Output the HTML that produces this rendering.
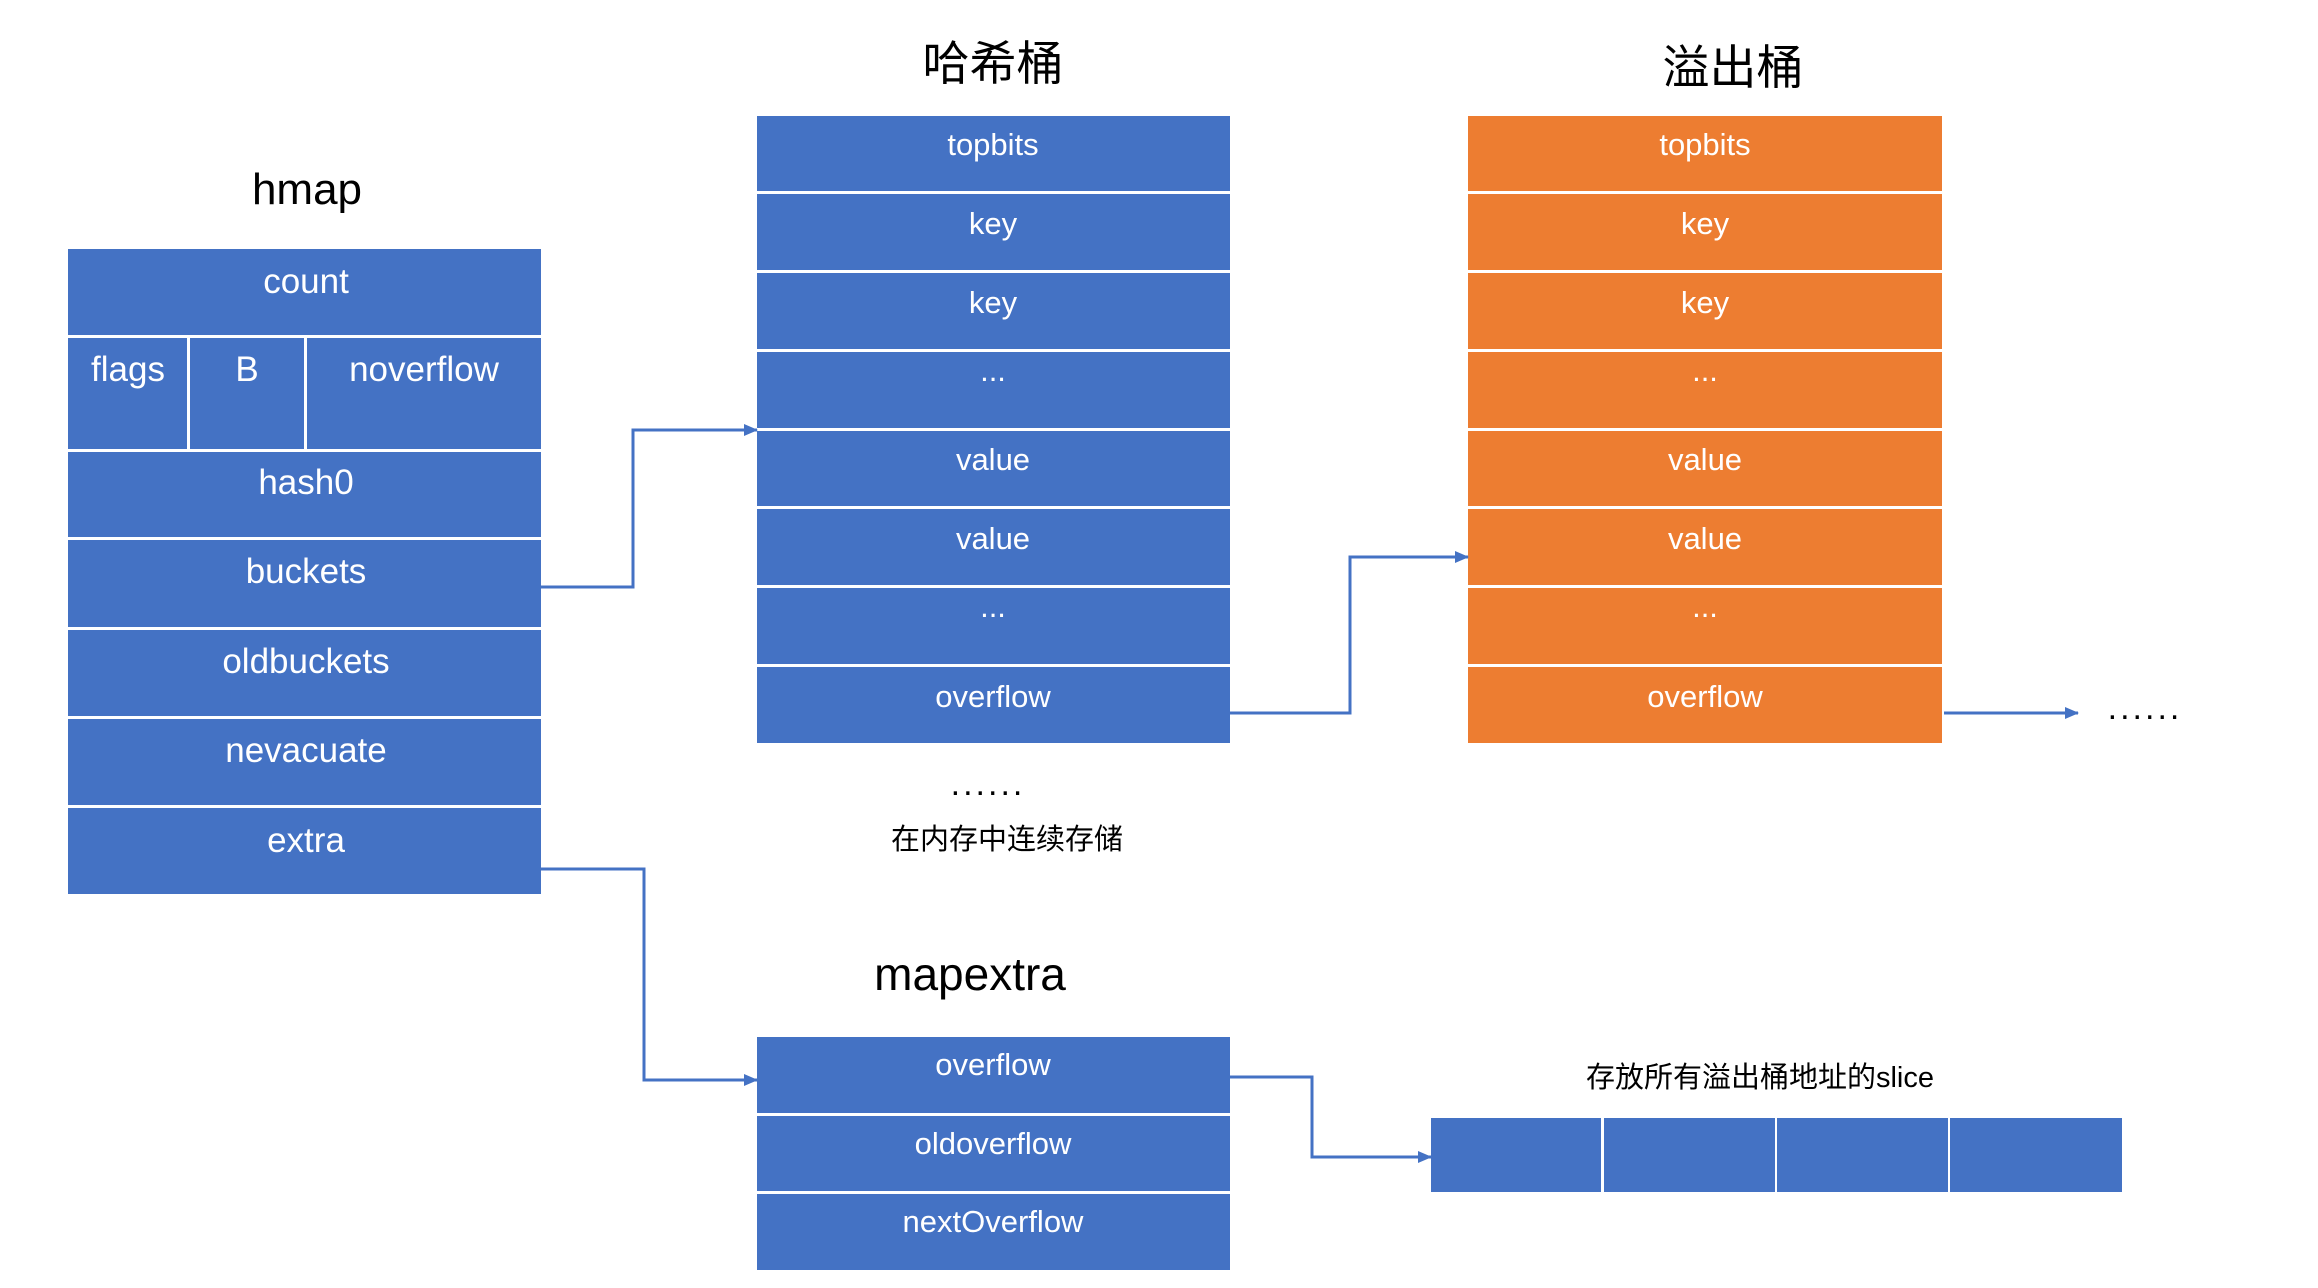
<!DOCTYPE html>
<html><head><meta charset="utf-8"><style>
html,body{margin:0;padding:0;background:#fff;}
svg{display:block}
text{font-family:"Liberation Sans","Noto Sans CJK SC",sans-serif;}
</style></head><body>
<svg width="2318" height="1288" viewBox="0 0 2318 1288" xmlns="http://www.w3.org/2000/svg">
<defs><marker id="a" markerWidth="14" markerHeight="12" refX="13" refY="6" orient="auto" markerUnits="userSpaceOnUse"><path d="M0,0 L14,6 L0,12 z" fill="#4472C4"/></marker></defs>
<text x="307" y="204" font-size="44" text-anchor="middle" fill="#000">hmap</text>
<g fill="#4472C4">
<rect x="68" y="249" width="473" height="86"/>
<rect x="68" y="338" width="119" height="111"/>
<rect x="190" y="338" width="114" height="111"/>
<rect x="307" y="338" width="234" height="111"/>
<rect x="68" y="452" width="473" height="85"/>
<rect x="68" y="540" width="473" height="87"/>
<rect x="68" y="630" width="473" height="86"/>
<rect x="68" y="719" width="473" height="86"/>
<rect x="68" y="808" width="473" height="86"/>
</g>
<g fill="#fff" font-size="35" text-anchor="middle">
<text x="306" y="293">count</text>
<text x="128" y="381">flags</text>
<text x="247" y="381">B</text>
<text x="424" y="381">noverflow</text>
<text x="306" y="494">hash0</text>
<text x="306" y="583">buckets</text>
<text x="306" y="673">oldbuckets</text>
<text x="306" y="762">nevacuate</text>
<text x="306" y="852">extra</text>
</g>
<text x="993" y="80" font-size="47" text-anchor="middle" fill="#000">哈希桶</text>
<g fill="#4472C4">
<rect x="757" y="116" width="473" height="75"/>
<rect x="757" y="194" width="473" height="76"/>
<rect x="757" y="273" width="473" height="76"/>
<rect x="757" y="352" width="473" height="76"/>
<rect x="757" y="431" width="473" height="75"/>
<rect x="757" y="509" width="473" height="76"/>
<rect x="757" y="588" width="473" height="76"/>
<rect x="757" y="667" width="473" height="76"/>
</g>
<g fill="#fff" font-size="31" text-anchor="middle">
<text x="993" y="155">topbits</text>
<text x="993" y="234">key</text>
<text x="993" y="313">key</text>
<text x="993" y="381">...</text>
<text x="993" y="470">value</text>
<text x="993" y="549">value</text>
<text x="993" y="617">...</text>
<text x="993" y="707">overflow</text>
</g>
<text x="1733" y="84" font-size="47" text-anchor="middle" fill="#000">溢出桶</text>
<g fill="#ED7D31">
<rect x="1468" y="116" width="474" height="75"/>
<rect x="1468" y="194" width="474" height="76"/>
<rect x="1468" y="273" width="474" height="76"/>
<rect x="1468" y="352" width="474" height="76"/>
<rect x="1468" y="431" width="474" height="75"/>
<rect x="1468" y="509" width="474" height="76"/>
<rect x="1468" y="588" width="474" height="76"/>
<rect x="1468" y="667" width="474" height="76"/>
</g>
<g fill="#fff" font-size="31" text-anchor="middle">
<text x="1705" y="155">topbits</text>
<text x="1705" y="234">key</text>
<text x="1705" y="313">key</text>
<text x="1705" y="381">...</text>
<text x="1705" y="470">value</text>
<text x="1705" y="549">value</text>
<text x="1705" y="617">...</text>
<text x="1705" y="707">overflow</text>
</g>
<text x="988" y="795" font-size="34" text-anchor="middle" fill="#000" letter-spacing="3">......</text>
<text x="1007" y="849" font-size="29" text-anchor="middle" fill="#000">在内存中连续存储</text>
<text x="2145" y="719" font-size="34" text-anchor="middle" fill="#000" letter-spacing="3">......</text>
<text x="970" y="990" font-size="46" text-anchor="middle" fill="#000">mapextra</text>
<g fill="#4472C4">
<rect x="757" y="1037" width="473" height="76"/>
<rect x="757" y="1116" width="473" height="75"/>
<rect x="757" y="1194" width="473" height="76"/>
</g>
<g fill="#fff" font-size="31" text-anchor="middle">
<text x="993" y="1075">overflow</text>
<text x="993" y="1154">oldoverflow</text>
<text x="993" y="1232">nextOverflow</text>
</g>
<text x="1760" y="1087" font-size="29" text-anchor="middle" fill="#000">存放所有溢出桶地址的slice</text>
<g fill="#4472C4">
<rect x="1431" y="1118" width="170" height="74"/>
<rect x="1604" y="1118" width="171" height="74"/>
<rect x="1777" y="1118" width="171" height="74"/>
<rect x="1950" y="1118" width="172" height="74"/>
</g>
<g fill="none" stroke="#4472C4" stroke-width="3">
<polyline points="541,587 633,587 633,430 757,430" marker-end="url(#a)"/>
<polyline points="1230,713 1350,713 1350,557 1468,557" marker-end="url(#a)"/>
<polyline points="1944,713 2078,713" marker-end="url(#a)"/>
<polyline points="541,869 644,869 644,1080 757,1080" marker-end="url(#a)"/>
<polyline points="1230,1077 1312,1077 1312,1157 1431,1157" marker-end="url(#a)"/>
</g>
</svg>
</body></html>
